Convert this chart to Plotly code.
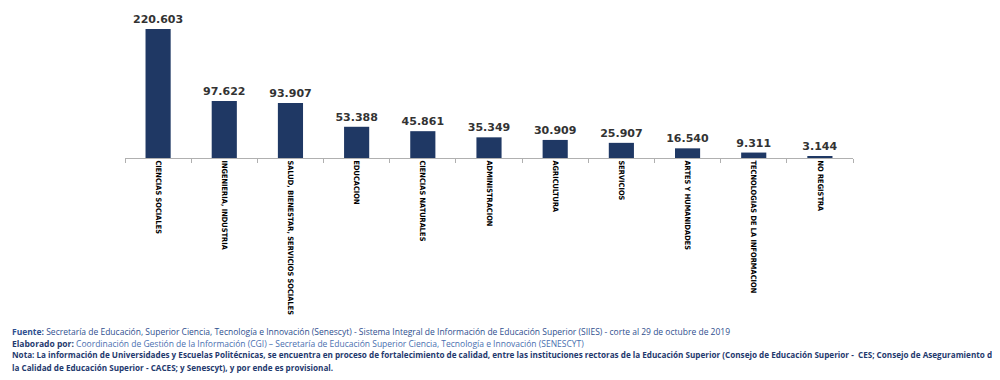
import plotly.graph_objects as go

categories = ["CIENCIAS SOCIALES", "INGENIERIA, INDUSTRIA", "SALUD, BIENESTAR, SERVICIOS SOCIALES",
              "EDUCACION", "CIENCIAS NATURALES", "ADMINISTRACION", "AGRICULTURA", "SERVICIOS",
              "ARTES Y HUMANIDADES", "TECNOLOGIAS DE LA INFORMACION", "NO REGISTRA"]
values = [220603, 97622, 93907, 53388, 45861, 35349, 30909, 25907, 16540, 9311, 3144]
value_labels = ["220.603", "97.622", "93.907", "53.388", "45.861", "35.349", "30.909",
                "25.907", "16.540", "9.311", "3.144"]

OFF = 8  # page body margin offset
W, H = 1000, 380
ML, MR, MT, MB = 125 - OFF, 147 + OFF, 20 - OFF, 222 + OFF
PW = W - ML - MR
PH = H - MT - MB

fig = go.Figure(go.Bar(
    x=categories, y=values, width=0.38,
    marker=dict(color="#1f3864", line=dict(width=0)),
    text=value_labels, textposition="outside", cliponaxis=False,
    constraintext="none",
    textfont=dict(family="DejaVu Sans", size=11, color="#333333", weight="bold"),
))

def px_x(p):
    return (p - OFF - ML) / PW

def px_y(p):
    return (H - MB - (p - OFF)) / PH

notes = [
    ("<b>Fuente:</b> Secretaría de Educación, Superior Ciencia, Tecnología e Innovación (Senescyt) - Sistema Integral de Información de Educación Superior (SIIES) - corte al 29 de octubre de 2019", 331, "#2f4f8f", 8.5),
    ("<b><span style='color:#1f3a6e'>Elaborado por:</span></b> Coordinación de Gestión de la Información (CGI) – Secretaría de Educación Superior Ciencia, Tecnología e Innovación (SENESCYT)", 343, "#4a6fb0", 8.5),
    ("<b>Nota: La información de Universidades y Escuelas Politécnicas, se encuentra en proceso de fortalecimiento de calidad, entre las instituciones rectoras de la Educación Superior (Consejo de Educación Superior -  CES; Consejo de Aseguramiento de</b>", 355, "#1f3a6e", 8.15),
    ("<b>la Calidad de Educación Superior - CACES; y Senescyt), y por ende es provisional.</b>", 367, "#1f3a6e", 8.15),
]
anns = []
for txt, py, col, fs in notes:
    anns.append(dict(text=txt, xref="paper", yref="paper", x=px_x(10), y=px_y(py),
                     xanchor="left", yanchor="middle", showarrow=False,
                     font=dict(family="Open Sans", size=fs, color=col)))

fig.update_layout(
    width=W, height=H,
    margin=dict(l=ML, r=MR, t=MT, b=MB, autoexpand=False),
    plot_bgcolor="white", paper_bgcolor="white",
    showlegend=False,
    annotations=anns,
    xaxis=dict(showline=True, linecolor="#b0b0b0", linewidth=1,
               ticks="outside", tickson="boundaries", ticklen=4, tickcolor="#b0b0b0",
               tickangle=90, showgrid=False,
               tickfont=dict(family="Liberation Sans Narrow, DejaVu Sans Condensed, sans-serif",
                             size=7.4, color="#000000", weight="bold")),
    yaxis=dict(visible=False, range=[0, 236000], showgrid=False),
)

fig.write_html("out.html")
